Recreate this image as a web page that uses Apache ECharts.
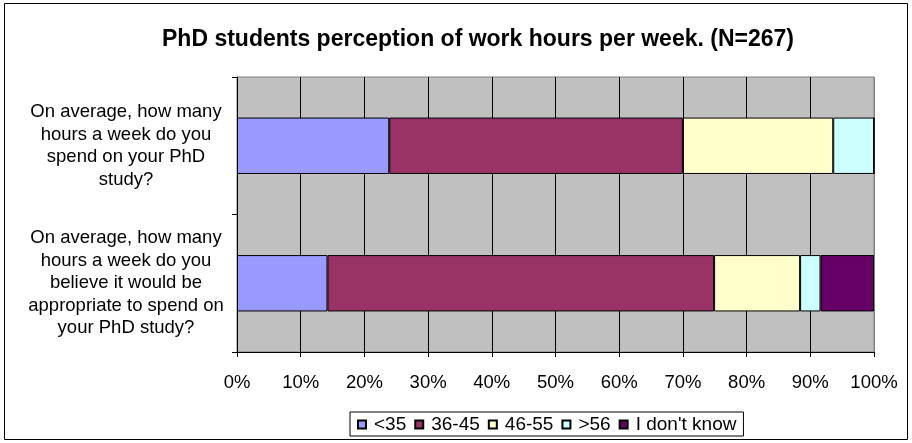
<!DOCTYPE html>
<html>
<head>
<meta charset="utf-8">
<script src="https://cdn.jsdelivr.net/npm/echarts@6/dist/echarts.min.js"></script>
<style>
  html, body { margin: 0; padding: 0; background: #fff; }
  #chart { width: 912px; height: 443px; }
</style>
</head>
<body>
<div id="chart"></div>
<script>
'use strict'

/************************ DATA *************************/
var questions = [
  'On average, how many\nhours a week do you\nspend on your PhD\nstudy?',
  'On average, how many\nhours a week do you\nbelieve it would be\nappropriate to spend on\nyour PhD study?'
];
var groupNames = ['<35', '36-45', '46-55', '>56', "I don't know"];
var under35   = [23.9, 14.2];
var h36to45   = [46.1, 60.7];
var h46to55   = [23.6, 13.5];
var over56    = [6.4, 3.2];
var dontKnow  = [0, 8.4];
var xTicks    = [0, 10, 20, 30, 40, 50, 60, 70, 80, 90, 100];

var groupValues = [under35, h36to45, h46to55, over56, dontKnow];
var groupColors = ['#9999ff', '#993366', '#ffffcc', '#ccffff', '#660066'];

var font = '"Liberation Sans", Arial, sans-serif';

var series = groupNames.map(function (name, i) {
  return {
    name: name,
    type: 'bar',
    stack: 'total',
    barCategoryGap: '59%',
    data: groupValues[i],
    itemStyle: {
      color: groupColors[i],
      borderColor: '#000',
      borderWidth: 1
    }
  };
});

// split lines black, except the plot's right edge which is grey
var splitColors = xTicks.map(function (t) { return t === 100 ? '#808080' : '#000'; });

var chart = echarts.init(document.getElementById('chart'));

var option = {
  animation: false,
  backgroundColor: '#fff',
  textStyle: { fontFamily: font },
  title: {
    text: 'PhD students perception of work hours per week. (N=267)',
    left: 473,
    textAlign: 'center',
    top: 23,
    textStyle: { fontFamily: font, fontSize: 23, fontWeight: 'bold', color: '#000' }
  },
  graphic: [{
    type: 'rect',
    shape: { x: 4.5, y: 3.5, width: 903, height: 436 },
    style: { fill: null, stroke: '#000', lineWidth: 1 },
    silent: true
  }],
  legend: {
    data: groupNames,
    left: 350,
    top: 412,
    padding: [3, 7, 2, 7],
    itemWidth: 8,
    itemHeight: 8,
    itemGap: 8,
    borderColor: '#000',
    borderWidth: 1,
    icon: 'rect',
    textStyle: { fontFamily: font, fontSize: 19, color: '#000', padding: [0, 0, 0, 3] }
  },
  grid: {
    left: 237,
    right: 38,
    top: 77,
    bottom: 91,
    show: true,
    backgroundColor: '#c0c0c0',
    borderColor: '#808080',
    borderWidth: 1
  },
  xAxis: {
    type: 'value',
    min: 0,
    max: 100,
    interval: 10,
    axisLine: { show: true, lineStyle: { color: '#000' } },
    axisTick: { show: true, length: 5, lineStyle: { color: '#000' } },
    axisLabel: {
      formatter: '{value}%',
      margin: 21,
      fontSize: 18.5,
      color: '#000',
      fontFamily: font
    },
    splitLine: { show: true, lineStyle: { color: splitColors, width: 1 } }
  },
  yAxis: {
    type: 'category',
    inverse: true,
    data: questions,
    axisLine: { show: true, lineStyle: { color: '#000' } },
    axisTick: { show: true, length: 5, lineStyle: { color: '#000' } },
    axisLabel: {
      align: 'center',
      margin: 111,
      fontSize: 18.5,
      lineHeight: 22.5,
      color: '#000',
      fontFamily: font
    },
    splitLine: { show: false }
  },
  series: series
};

chart.setOption(option);
</script>
</body>
</html>
